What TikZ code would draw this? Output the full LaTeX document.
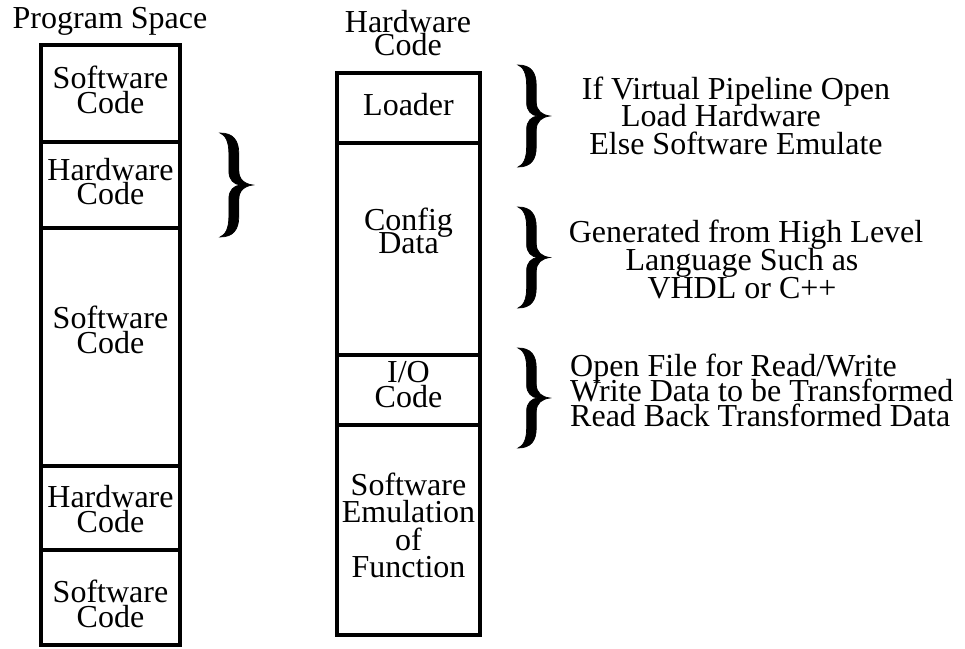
\documentclass[tikz,border=0pt]{standalone}
\usepackage{fontspec}
\setmainfont{Liberation Serif}
\newcommand\mystack[2]{\vtop{\baselineskip=#1\lineskiplimit=-1000pt\lineskip=0pt
  \halign{\hfil##\hfil\cr #2\cr}}}
\newcommand\mystackl[2]{\vtop{\baselineskip=#1\lineskiplimit=-1000pt\lineskip=0pt
  \halign{##\hfil\cr #2\cr}}}
\begin{document}
\begin{tikzpicture}[x=1pt,y=-1pt,
  colbox/.style={line width=4pt},
  lbl/.style={anchor=base, inner sep=0pt, font=\fontsize{32}{26}\selectfont},
  lbll/.style={anchor=base west, inner sep=0pt, font=\fontsize{32}{26}\selectfont},
  pics/bigbrace/.style n args={2}{code={
    \filldraw[line width=0.7pt, xscale=#1, yscale=#2]
      (0,0) .. controls (0.4,0) and (0.57,0.07) .. (0.57,0.2)
      -- (0.57,0.36) .. controls (0.57,0.45) and (0.75,0.49) .. (1,0.5)
      .. controls (0.75,0.51) and (0.57,0.55) .. (0.57,0.64)
      -- (0.57,0.8) .. controls (0.57,0.93) and (0.4,1) .. (0,1)
      .. controls (0.16,0.98) and (0.27,0.92) .. (0.27,0.8)
      -- (0.27,0.63) .. controls (0.27,0.55) and (0.42,0.505) .. (0.62,0.5)
      .. controls (0.42,0.495) and (0.27,0.45) .. (0.27,0.37)
      -- (0.27,0.2) .. controls (0.27,0.08) and (0.16,0.02) .. (0,0) -- cycle;
  }}]
\useasboundingbox (0,0) rectangle (965,648);

% ---- left column: Program Space ----
\draw[colbox] (41,45) rectangle (180,645);
\draw[colbox] (41,142) -- (180,142);
\draw[colbox] (41,228) -- (180,228);
\draw[colbox] (41,466) -- (180,466);
\draw[colbox] (41,550) -- (180,550);

\node[lbl] (ps) at (110,28) {Program Space};
\node[lbl] (l1) at (110.5,88) {\mystack{25pt}{Software\cr Code}};
\node[lbl] (l2) at (110.5,180) {\mystack{24pt}{Hardware\cr Code}};
\node[lbl] (l3) at (110.5,328) {\mystack{25pt}{Software\cr Code}};
\node[lbl] (l4) at (110.5,507) {\mystack{25pt}{Hardware\cr Code}};
\node[lbl] (l5) at (110.5,602) {\mystack{25pt}{Software\cr Code}};

\pic (b0) at (220,133) {bigbrace={33}{104}};

% ---- right column: Hardware Code ----
\draw[colbox] (337,73) rectangle (480,635);
\draw[colbox] (337,143) -- (480,143);
\draw[colbox] (337,355) -- (480,355);
\draw[colbox] (337,425) -- (480,425);

\node[lbl] (hc) at (408,32) {\mystack{23pt}{Hardware\cr Code}};
\node[lbl] (r1) at (408.5,115) {Loader};
\node[lbl] (r2) at (408.5,230) {\mystack{23pt}{Config\cr Data}};
\node[lbl] (r3) at (408.5,382) {\mystack{25pt}{I/O\cr Code}};
\node[lbl] (r4) at (408.5,495) {\mystack{27.5pt}{Software\cr Emulation\cr of\cr Function}};

% ---- braces and notes ----
\pic (b1) at (518,65) {bigbrace={32}{102}};
\pic (b2) at (518,207) {bigbrace={32}{101}};
\pic (b3) at (518,348) {bigbrace={32}{100}};

\node[lbl] (n1) at (736,99) {\mystack{27.5pt}{If Virtual Pipeline Open\cr
  Load Hardware\hspace*{30pt}\cr Else Software Emulate}};
\node[lbl] (n2) at (746,242) {\mystack{28pt}{Generated from High Level\cr
  Language Such as\hspace*{8pt}\cr VHDL or C++\hspace*{8pt}}};
\node[lbll] (n3) at (570,376) {\mystackl{25pt}{Open File for Read/Write\cr
  Write Data to be Transformed\cr Read Back Transformed Data}};
\end{tikzpicture}
\end{document}
